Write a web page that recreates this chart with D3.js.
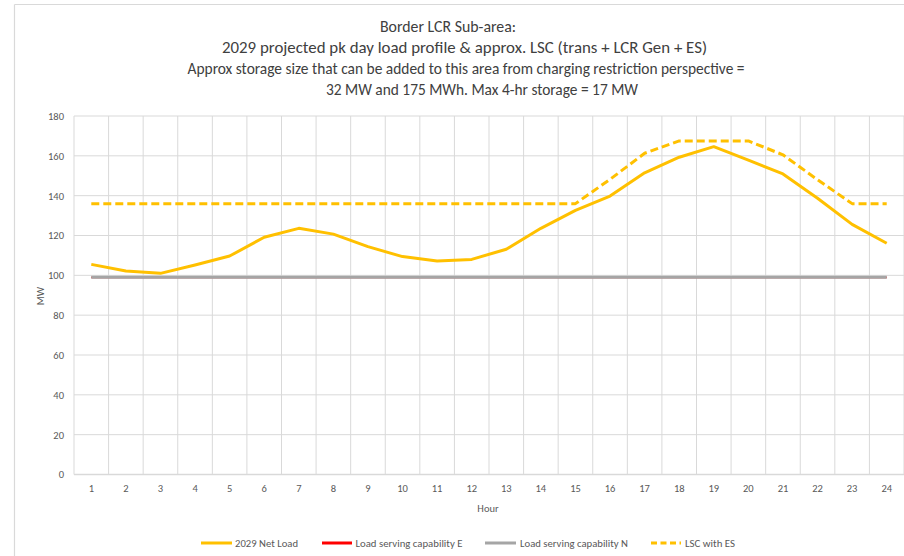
<!DOCTYPE html>
<html>
<head>
<meta charset="utf-8">
<script src="https://cdn.jsdelivr.net/npm/d3@7"></script>
<style>
  html, body { margin: 0; padding: 0; background: #fff; }
  svg { display: block; }
  text { font-family: Carlito, Calibri, "Open Sans", "Noto Sans", sans-serif; }
</style>
</head>
<body>
<svg id="chart" width="904" height="556"></svg>
<script>
// ---- Data ----
const hours = d3.range(1, 25);
const netLoad = [105.5, 102.2, 101.0, 105.2, 109.7, 119.1, 123.6, 120.7, 114.4, 109.4, 107.2, 108.0,
                 113.1, 123.6, 132.6, 139.8, 151.5, 159.3, 164.6, 157.8, 150.9, 138.7, 125.6, 116.1];
const lscE = Array(24).fill(99);
const lscN = Array(24).fill(99);
const lscES = [136, 136, 136, 136, 136, 136, 136, 136, 136, 136, 136, 136,
               136, 136, 136, 148.2, 161.3, 167.5, 167.5, 167.5, 160.5, 148.0, 136, 136];
const yTicks = [0, 20, 40, 60, 80, 100, 120, 140, 160, 180];
const titleLines = [
  "Border LCR Sub-area:",
  "2029 projected pk day load profile & approx. LSC (trans + LCR Gen + ES)",
  "Approx storage size that can be added to this area from charging restriction perspective =",
  "32 MW and 175 MWh. Max 4-hr storage = 17 MW"
];
const legendItems = ["2029 Net Load", "Load serving capability E", "Load serving capability N", "LSC with ES"];

// ---- Layout ----
const svg = d3.select("#chart");
const plot = { left: 74, right: 904, top: 116, bottom: 474.5 };

// outer chart border
svg.append("line").attr("x1", 14.5).attr("x2", 14.5).attr("y1", 4.5).attr("y2", 556)
  .attr("stroke", "#d9d9d9").attr("stroke-width", 1.2);
svg.append("line").attr("x1", 14.5).attr("x2", 904).attr("y1", 4.5).attr("y2", 4.5)
  .attr("stroke", "#d9d9d9").attr("stroke-width", 1.2);

// Title
const titleSpecs = [
  { cx: 448, y: 32, w: 136 },
  { cx: 464.5, y: 53, w: 485 },
  { cx: 466, y: 74, w: 557 },
  { cx: 482, y: 95, w: 312 }
];
titleLines.forEach((t, i) => {
  svg.append("text")
    .attr("x", titleSpecs[i].cx).attr("y", titleSpecs[i].y)
    .attr("text-anchor", "middle")
    .attr("font-size", 15.5)
    .attr("fill", "#404040")
    .attr("textLength", titleSpecs[i].w)
    .attr("lengthAdjust", "spacingAndGlyphs")
    .text(t);
});

// Scales
const x = d3.scaleBand().domain(hours).range([plot.left, plot.right]).paddingInner(0).paddingOuter(0);
const xc = h => x(h) + x.bandwidth() / 2;
const y = d3.scaleLinear().domain([0, 180]).range([plot.bottom, plot.top]);

// Gridlines horizontal
svg.append("g").selectAll("line").data(yTicks).join("line")
  .attr("x1", plot.left).attr("x2", plot.right)
  .attr("y1", d => y(d)).attr("y2", d => y(d))
  .attr("stroke", "#d9d9d9").attr("stroke-width", 1);

// Gridlines vertical (band boundaries)
const vlines = hours.map(h => x(h)).concat([plot.right]);
svg.append("g").selectAll("line").data(vlines).join("line")
  .attr("x1", d => d).attr("x2", d => d)
  .attr("y1", plot.top).attr("y2", plot.bottom)
  .attr("stroke", "#d9d9d9").attr("stroke-width", 1);

// bottom axis line
svg.append("line").attr("x1", plot.left).attr("x2", plot.right)
  .attr("y1", plot.bottom).attr("y2", plot.bottom)
  .attr("stroke", "#d9d9d9").attr("stroke-width", 1.5);

// Y axis labels
const yAxis = d3.axisLeft(y).tickValues(yTicks).tickSize(0).tickPadding(10);
const gy = svg.append("g").attr("transform", `translate(${plot.left},0)`).call(yAxis);
gy.select(".domain").remove();
gy.selectAll("text").attr("font-size", 10.5).attr("fill", "#595959")
  .style("font-family", 'Carlito, Calibri, "Open Sans", sans-serif');

// X axis labels
const xAxis = d3.axisBottom(x).tickSize(0).tickPadding(10);
const gx = svg.append("g").attr("transform", `translate(0,${plot.bottom})`).call(xAxis);
gx.select(".domain").remove();
gx.selectAll("text").attr("font-size", 10.5).attr("fill", "#595959")
  .style("font-family", 'Carlito, Calibri, "Open Sans", sans-serif');

// Axis titles
svg.append("text").attr("x", 488).attr("y", 512).attr("text-anchor", "middle")
  .attr("font-size", 10.5).attr("fill", "#595959").text("Hour");
svg.append("text").attr("transform", "translate(44,296) rotate(-90)").attr("text-anchor", "middle")
  .attr("font-size", 10.5).attr("fill", "#595959").text("MW");

// Lines
const lineGen = d3.line().x((d, i) => xc(hours[i])).y(d => y(d));
const series = [
  { data: lscE, color: "#FF0000", dash: null, w: 1.8 },
  { data: lscN, color: "#A5A5A5", dash: null, w: 3 },
  { data: lscES, color: "#FFC000", dash: "8,4", w: 3 },
  { data: netLoad, color: "#FFC000", dash: null, w: 3 }
];
series.forEach(s => {
  svg.append("path").datum(s.data)
    .attr("d", lineGen)
    .attr("fill", "none")
    .attr("stroke", s.color)
    .attr("stroke-width", s.w)
    .attr("stroke-linejoin", "round")
    .attr("stroke-dasharray", s.dash);
});

// Legend
const legendSpecs = [
  { x1: 201, x2: 232, tx: 235, w: 63, color: "#FFC000", dash: null },
  { x1: 322, x2: 352, tx: 355.5, w: 107, color: "#FF0000", dash: null },
  { x1: 485, x2: 516, tx: 520, w: 108, color: "#A5A5A5", dash: null },
  { x1: 651, x2: 681, tx: 685, w: 50, color: "#FFC000", dash: "6,3.5" }
];
legendItems.forEach((t, i) => {
  const s = legendSpecs[i];
  svg.append("line").attr("x1", s.x1).attr("x2", s.x2).attr("y1", 543).attr("y2", 543)
    .attr("stroke", s.color).attr("stroke-width", 3).attr("stroke-dasharray", s.dash);
  svg.append("text").attr("x", s.tx).attr("y", 546.5).attr("font-size", 10)
    .attr("fill", "#595959").attr("textLength", s.w).attr("lengthAdjust", "spacingAndGlyphs").text(t);
});
</script>
</body>
</html>
